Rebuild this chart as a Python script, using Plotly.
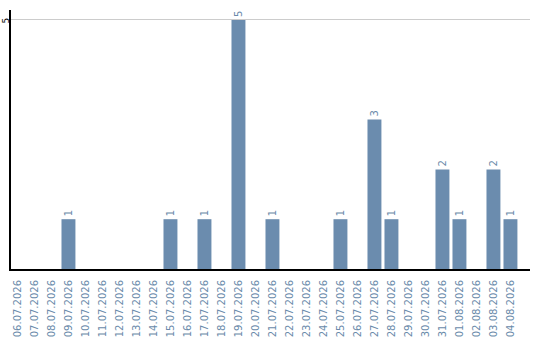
import plotly.graph_objects as go

dates = ["06.07.2026", "07.07.2026", "08.07.2026", "09.07.2026", "10.07.2026",
         "11.07.2026", "12.07.2026", "13.07.2026", "14.07.2026", "15.07.2026",
         "16.07.2026", "17.07.2026", "18.07.2026", "19.07.2026", "20.07.2026",
         "21.07.2026", "22.07.2026", "23.07.2026", "24.07.2026", "25.07.2026",
         "26.07.2026", "27.07.2026", "28.07.2026", "29.07.2026", "30.07.2026",
         "31.07.2026", "01.08.2026", "02.08.2026", "03.08.2026", "04.08.2026"]
counts = [0, 0, 0, 1, 0, 0, 0, 0, 0, 1,
          0, 1, 0, 5, 0, 1, 0, 0, 0, 1,
          0, 3, 1, 0, 0, 2, 1, 0, 2, 1]
y_ticks = [5]

labels = [str(v) if v > 0 else "" for v in counts]

bar_color = "#6b8cae"
label_color = "#6a8aaa"

fig = go.Figure(go.Bar(
    x=dates,
    y=counts,
    text=labels,
    textposition="outside",
    textangle=-90,
    textfont=dict(family="DejaVu Sans", size=10, color=label_color),
    cliponaxis=False,
    marker=dict(color=bar_color, line=dict(width=0)),
    hoverinfo="x+y",
))

# rotated y tick labels, centred in the strip left of the axis line
for v in y_ticks:
    fig.add_annotation(
        x=-0.0106, xref="paper", y=v, yref="y",
        text=str(v), textangle=-90, showarrow=False,
        xanchor="center", yanchor="middle",
        font=dict(family="DejaVu Sans", size=9, color="black"),
    )

fig.update_layout(
    width=540, height=340,
    margin=dict(l=11, r=10, t=10, b=71),
    paper_bgcolor="white",
    plot_bgcolor="white",
    bargap=0.18,
    showlegend=False,
    xaxis=dict(
        type="category",
        range=[-0.38, 30.15],
        tickangle=-90,
        tickfont=dict(family="DejaVu Sans", size=10, color=label_color),
        showgrid=False,
        showline=True, linecolor="black", linewidth=2,
        ticks="",
        ticklabelstandoff=5,
        automargin=False,
    ),
    yaxis=dict(
        range=[0, 5.2],
        tickvals=y_ticks,
        showticklabels=False,
        showgrid=True, gridcolor="#cccccc", gridwidth=1,
        zeroline=False,
        showline=True, linecolor="black", linewidth=2,
        ticks="",
        automargin=False,
    ),
)

fig.write_html("out.html")
